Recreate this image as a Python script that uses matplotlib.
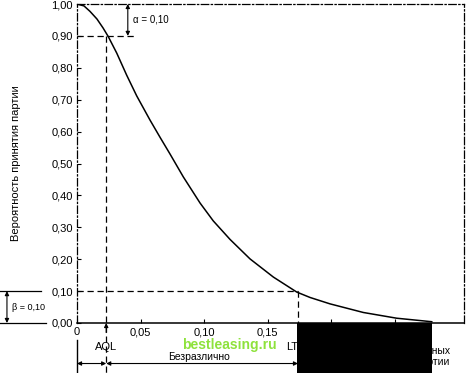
import matplotlib.pyplot as plt
from matplotlib.patches import Rectangle
from matplotlib.lines import Line2D

plt.rcParams['font.family'] = ['Liberation Sans', 'DejaVu Sans']

# OC curve
defect_share = [0.0, 0.0055, 0.0102, 0.0157, 0.0205, 0.0246, 0.0313, 0.0391, 0.047,
                0.0575, 0.0654, 0.0732, 0.0837, 0.0969, 0.1073, 0.1205, 0.1362,
                0.1546, 0.173, 0.1835, 0.1992, 0.2254, 0.2517, 0.2793]
p_accept = [1.0, 0.994, 0.977, 0.953, 0.925, 0.898, 0.846, 0.777, 0.712,
            0.636, 0.582, 0.530, 0.458, 0.376, 0.320, 0.262, 0.201,
            0.144, 0.097, 0.080, 0.060, 0.033, 0.015, 0.004]

aql = 0.023
ltpd = 0.174
alpha = 0.10
beta = 0.10

x_ticks = [0, 0.05, 0.10, 0.15, 0.20, 0.25]
x_labels = ['0', '0,05', '0,10', '0,15', '', '']
y_ticks = [0, 0.1, 0.2, 0.3, 0.4, 0.5, 0.6, 0.7, 0.8, 0.9, 1.0]
y_labels = ['0,00', '0,10', '0,20', '0,30', '0,40', '0,50', '0,60', '0,70', '0,80', '0,90', '1,00']

W, H = 467, 373
fig = plt.figure(figsize=(W / 100, H / 100), dpi=100)
ax = fig.add_axes([77 / W, 50 / H, 387 / W, 319 / H])

ax.plot(defect_share, p_accept, color='black', lw=1.1)
ax.set_xlim(0, 0.3047)
ax.set_ylim(0, 1.0)

ax.set_xticks(x_ticks)
ax.set_xticklabels(x_labels, fontsize=8)
ax.set_yticks(y_ticks)
ax.set_yticklabels(y_labels, fontsize=8)
ax.tick_params(direction='in', length=3, width=0.8, pad=3)
ax.set_ylabel('Вероятность принятия партии', fontsize=8, labelpad=22)

dashdot = (0, (6, 2, 1, 2))
for side in ['left', 'top', 'right']:
    ax.spines[side].set_linestyle(dashdot)
    ax.spines[side].set_linewidth(0.9)
ax.spines['bottom'].set_linewidth(1.1)

dash = (0, (5, 3))
arrow2 = dict(arrowstyle='<|-|>', color='black', lw=0.8, mutation_scale=6,
              shrinkA=0, shrinkB=0)

# alpha / AQL guides
ax.plot([0, 0.047], [1 - alpha, 1 - alpha], color='black', lw=0.9, ls=dash)
ax.plot([aql, aql], [1 - alpha, -0.16], color='black', lw=0.9, ls=dash, clip_on=False)
ax.annotate('', xy=(0.040, 1.0), xytext=(0.040, 1 - alpha), arrowprops=arrow2)
ax.text(0.044, 0.95, 'α = 0,10', fontsize=7, va='center', ha='left')

# beta / LTPD guides
ax.plot([0, ltpd], [beta, beta], color='black', lw=0.9, ls=dash)
ax.plot([ltpd, ltpd], [beta, -0.16], color='black', lw=0.9, ls=dash, clip_on=False)
fig.add_artist(Line2D([0, 41 / W], [(373 - 291) / H] * 2, color='black', lw=0.9))
fig.add_artist(Line2D([0, 46 / W], [50 / H] * 2, color='black', lw=0.9))
ax.annotate('', xy=(-0.181, 0.0), xytext=(-0.181, beta),
            xycoords=('axes fraction', 'data'), textcoords=('axes fraction', 'data'),
            arrowprops=arrow2, annotation_clip=False)
fig.text(12 / W, (373 - 307) / H, 'β = 0,10', fontsize=6.5, va='center', ha='left')

# zones under the axis
ax.plot([0, 0], [-0.053, -0.16], color='black', lw=1.0, clip_on=False)
ax.annotate('', xy=(aql, 0), xytext=(aql, -0.03), annotation_clip=False,
            arrowprops=dict(arrowstyle='-|>', color='black', lw=0.8, mutation_scale=6,
                            shrinkA=0, shrinkB=0))
y_arrow = -0.127
ax.annotate('', xy=(0, y_arrow), xytext=(aql, y_arrow), arrowprops=arrow2,
            annotation_clip=False)
ax.annotate('', xy=(aql, y_arrow), xytext=(ltpd, y_arrow), arrowprops=arrow2,
            annotation_clip=False)
ax.text(aql, -0.075, 'AQL', fontsize=8, ha='center', va='center')
ax.text(ltpd - 0.009, -0.075, 'LTPD', fontsize=8, ha='left', va='center')
ax.text(0.072, -0.116, 'Безразлично', fontsize=7.5, ha='left', va='baseline')

fig.text(450 / W, (373 - 351) / H, 'бракованных', fontsize=7.5, ha='right', va='center')
fig.text(450 / W, (373 - 362) / H, 'партии', fontsize=7.5, ha='right', va='center')

fig.text(182 / W, (373 - 349) / H, 'bestleasing.ru', fontsize=10, fontweight='bold',
         color='#8ee23c', ha='left', va='baseline')

fig.add_artist(Rectangle((297 / W, 0), 135 / W, 50 / H, transform=fig.transFigure,
                         facecolor='black', edgecolor='none', zorder=10))

fig.savefig('out.png', dpi=100)
